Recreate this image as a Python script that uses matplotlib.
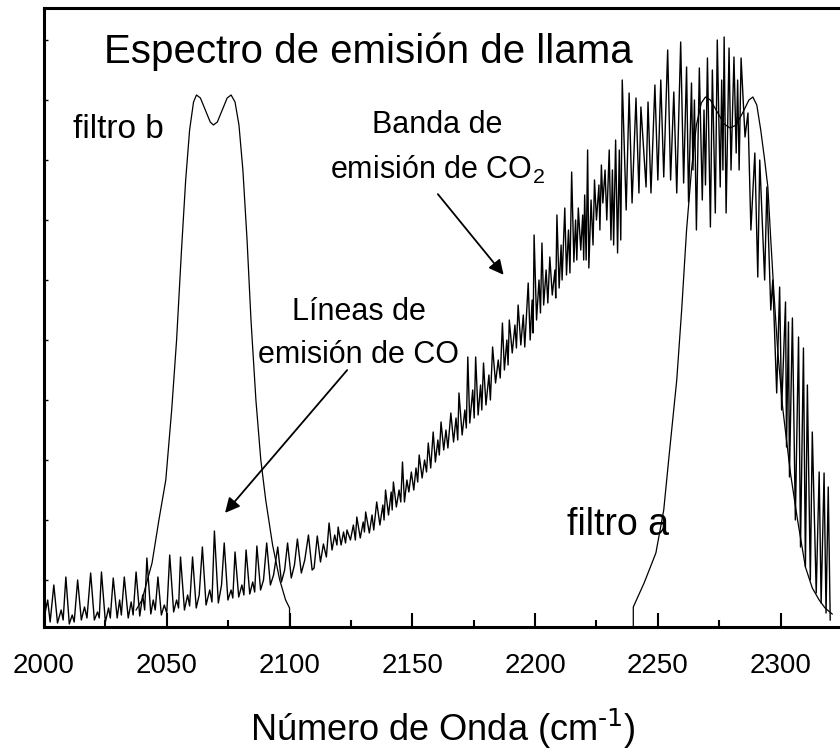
import matplotlib
matplotlib.use("Agg")
import matplotlib.pyplot as plt

plt.rcParams["font.family"] = ["Liberation Sans", "DejaVu Sans"]

# emission spectrum (wavenumber, intensity)
spec_x = [
    2000.0, 2001.5, 2002.5, 2004.0, 2005.5, 2007.0, 2007.8, 2008.9, 2010.3, 2011.5,
    2012.3, 2013.7, 2015.2, 2016.5, 2017.5, 2019.0, 2020.5, 2021.8, 2022.5, 2023.4,
    2025.0, 2026.3, 2027.0, 2028.2, 2029.8, 2030.8, 2031.5, 2032.7, 2034.3, 2035.5,
    2036.3, 2037.5, 2039.0, 2040.2, 2041.0, 2041.9, 2043.5, 2044.5, 2045.3, 2046.4,
    2047.8, 2049.0, 2050.0, 2051.2, 2052.8, 2054.0, 2054.8, 2055.6, 2057.2, 2058.5,
    2059.3, 2060.5, 2062.0, 2063.2, 2064.5, 2066.0, 2067.5, 2068.4, 2069.4, 2071.0,
    2072.3, 2073.4, 2074.9, 2076.2, 2076.9, 2077.8, 2079.3, 2080.6, 2081.4, 2082.3,
    2083.8, 2085.0, 2085.8, 2086.7, 2088.2, 2089.4, 2090.7, 2092.2, 2093.5, 2095.2,
    2096.7, 2098.0, 2099.2, 2100.7, 2102.0, 2103.2, 2104.8, 2106.2, 2107.7, 2109.2,
    2110.0, 2111.3, 2112.6, 2113.8, 2115.0, 2116.1, 2117.3, 2118.4, 2119.3, 2119.8,
    2121.0, 2122.0, 2122.8, 2123.4, 2124.8, 2126.0, 2126.8, 2127.4, 2128.8, 2130.0,
    2130.5, 2131.0, 2132.5, 2133.6, 2134.3, 2135.5, 2136.8, 2138.0, 2138.5, 2139.1,
    2140.3, 2141.4, 2141.8, 2142.3, 2143.5, 2144.6, 2145.3, 2146.0, 2146.8, 2147.8,
    2148.6, 2149.6, 2150.6, 2151.5, 2152.2, 2152.8, 2154.0, 2155.0, 2155.8, 2156.5,
    2157.5, 2158.5, 2159.4, 2160.4, 2161.0, 2161.7, 2162.8, 2163.7, 2164.5, 2165.7,
    2166.8, 2167.8, 2168.5, 2169.0, 2170.3, 2171.4, 2172.0, 2172.6, 2173.4, 2174.6,
    2175.2, 2175.8, 2176.8, 2177.8, 2178.3, 2179.0, 2180.0, 2181.2, 2181.8, 2182.7,
    2183.9, 2185.0, 2185.8, 2186.7, 2187.5, 2188.5, 2189.0, 2189.5, 2190.7, 2191.8,
    2192.4, 2193.1, 2194.2, 2195.2, 2195.8, 2197.2, 2198.0, 2198.8, 2199.2, 2199.6,
    2200.6, 2201.6, 2202.2, 2202.8, 2203.5, 2204.5, 2205.2, 2206.0, 2207.0, 2208.1,
    2208.4, 2208.9, 2209.8, 2210.6, 2211.0, 2212.1, 2212.8, 2213.6, 2214.2, 2214.9,
    2215.8, 2216.5, 2217.0, 2217.6, 2218.6, 2219.4, 2219.8, 2220.2, 2220.8, 2221.4,
    2221.9, 2222.8, 2223.6, 2224.2, 2225.0, 2226.0, 2226.4, 2227.0, 2227.6, 2228.5,
    2229.2, 2230.2, 2230.9, 2231.5, 2232.0, 2232.8, 2233.6, 2234.3, 2234.9, 2235.5,
    2237.1, 2238.3, 2239.5, 2241.1, 2242.3, 2243.1, 2245.2, 2246.0, 2247.2, 2248.8,
    2250.0, 2251.2, 2252.4, 2254.0, 2255.2, 2256.5, 2257.7, 2259.3, 2260.5, 2261.7,
    2262.5, 2263.7, 2264.3, 2264.9, 2265.7, 2266.9, 2268.1, 2268.8, 2269.4, 2270.2,
    2271.4, 2272.2, 2273.4, 2274.2, 2275.4, 2276.0, 2276.5, 2277.0, 2277.8, 2279.0,
    2279.8, 2281.0, 2281.9, 2282.5, 2283.1, 2283.9, 2285.5, 2286.7,
    2287.9, 2289.5, 2290.7, 2291.5, 2293.5, 2294.4, 2296.0, 2296.8, 2298.4, 2299.6,
    2300.4, 2302.0, 2302.4, 2303.2, 2303.6, 2304.8, 2306.0, 2307.3, 2308.1, 2309.3,
    2310.1, 2310.9, 2312.1, 2312.9, 2314.5, 2315.7, 2316.5, 2317.7, 2318.5, 2319.4,
    2320.2,
]
spec_y = [
    22, 40, 18, 55, 17, 30, 20, 63, 16, 25,
    18, 60, 20, 33, 22, 67, 20, 28, 22, 68,
    18, 32, 22, 62, 22, 40, 25, 63, 22, 38,
    25, 68, 24, 45, 30, 82, 26, 40, 30, 63,
    25, 35, 27, 85, 28, 40, 32, 83, 30, 45,
    34, 83, 32, 45, 93, 35, 50, 38, 109, 37,
    55, 97, 40, 50, 42, 88, 43, 55, 45, 90,
    46, 58, 48, 94, 50, 60, 97, 55, 65, 93,
    58, 70, 97, 62, 75, 101, 67, 80, 105, 70,
    72, 104, 78, 96, 83, 117, 90, 105, 95, 113,
    95, 108, 97, 110, 100, 115, 100, 123, 102, 118,
    108, 128, 107, 125, 110, 138, 115, 135, 120, 150,
    125, 148, 130, 158, 133, 150, 138, 178, 138, 160,
    148, 168, 150, 172, 158, 185, 162, 180, 168, 197,
    172, 208, 178, 200, 185, 218, 190, 210, 192, 227,
    198, 222, 200, 247, 205, 230, 212, 283, 217, 250,
    222, 283, 225, 255, 230, 277, 235, 265, 240, 293,
    257, 280, 262, 317, 270, 300, 275, 320, 287, 315,
    292, 335, 295, 325, 293, 357, 300, 340, 307, 405,
    320, 360, 327, 397, 335, 370, 337, 383, 345, 370,
    342, 425, 352, 395, 360, 432, 365, 410, 367, 468,
    378, 420, 380, 432, 390, 425, 380, 445, 380, 490,
    372, 440, 395, 460, 420, 455, 410, 475, 437, 470,
    420, 490, 400, 470, 395, 500, 387, 490, 400, 560,
    430, 547, 437, 542, 447, 533, 453, 538, 447, 555,
    460, 560, 463, 590, 460, 548, 447, 598, 457, 573,
    438, 557, 470, 540, 410, 572, 440, 530, 455, 582,
    413, 570, 427, 600, 453, 560, 470, 603, 427, 592,
    470, 583, 487, 560, 470, 582, 503, 527,
    410, 487, 363, 480, 360, 453, 330, 360, 247, 353,
    230, 338, 193, 318, 163, 322, 120, 303, 93, 292,
    73, 255, 60, 208, 47, 168, 37, 167, 27, 153,
    20,
]

# filter b transmission
filtb_x = [2037.5, 2039.9, 2044.0, 2046.8, 2049.6, 2052.0, 2054.0, 2056.0, 2057.7,
           2059.3, 2060.9, 2062.1, 2063.7, 2065.7, 2067.7, 2069.0, 2070.6, 2072.6, 2074.6,
           2076.2, 2077.8, 2079.4, 2081.0, 2082.7, 2084.3, 2086.3, 2088.3, 2090.3, 2093.1,
           2096.0, 2098.4, 2100.0, 2100.0]
filtb_y = [30, 40, 77, 120, 160, 230, 300, 390, 460,
           510, 538, 545, 542, 530, 518, 515, 518, 530, 542,
           545, 538, 515, 470, 400, 320, 240, 180, 140, 95,
           60, 40, 32, 0]

# filter a transmission
filta_x = [2240.0, 2240.0, 2244.4, 2249.2, 2252.4, 2254.4, 2257.7, 2259.7, 2261.7, 2263.7,
           2265.7, 2267.7, 2269.4, 2271.4, 2274.2, 2277.0, 2279.4, 2281.9, 2284.7, 2287.1,
           2288.7, 2290.3, 2291.9, 2293.5, 2294.8, 2296.0, 2297.2, 2298.8, 2300.8, 2304.0,
           2306.9, 2310.1, 2312.9, 2315.7, 2318.1, 2321.0]
filta_y = [0, 33, 57, 87, 130, 180, 260, 330, 410, 470,
           515, 537, 543, 540, 528, 516, 512, 515, 528, 540,
           543, 535, 510, 480, 453, 400, 350, 290, 233, 167,
           120, 73, 52, 40, 32, 26]

fig = plt.figure(figsize=(8.4, 7.56), dpi=100)
ax = fig.add_axes([44 / 840, 129 / 756, 798 / 840, 619 / 756])

ax.plot(spec_x, spec_y, color="black", lw=1.0)
ax.plot(filtb_x, filtb_y, color="black", lw=0.9)
ax.plot(filta_x, filta_y, color="black", lw=0.9)

ax.set_xlim(2000, 2321.8)
ax.set_ylim(13, 632)

ax.set_xticks([2000, 2050, 2100, 2150, 2200, 2250, 2300])
ax.set_xticks([2025, 2075, 2125, 2175, 2225, 2275, 2325], minor=True)
ax.set_yticks([60, 120, 180, 240, 300, 360, 420, 480, 540, 600])
ax.set_yticklabels([])
ax.tick_params(axis="x", which="major", direction="in", length=10, width=1.5,
               labelsize=20, pad=19, top=False)
ax.tick_params(axis="x", which="minor", direction="in", length=5, width=1.5, top=False)
ax.tick_params(axis="y", direction="in", length=3, width=1.0, right=False)
for s in ax.spines.values():
    s.set_linewidth(2.2)
ax.spines["right"].set_visible(False)

ax.set_xlabel("Número de Onda (cm$^{\\text{-1}}$)", fontsize=26, labelpad=20)

ax.text(2132.3, 588, "Espectro de emisión de llama", fontsize=29, ha="center", va="center")
ax.text(2011.7, 510, "filtro b", fontsize=24, ha="left", va="center")
ax.text(2213.0, 115, "filtro a", fontsize=27, ha="left", va="center")
ax.text(2160.1, 515, "Banda de", fontsize=22, ha="center", va="center")
ax.text(2160.1, 470, "emisión de CO$_{\\mathregular{2}}$", fontsize=22, ha="center", va="center")
ax.text(2128.2, 328, "Líneas de", fontsize=22, ha="center", va="center")
ax.text(2128.2, 285, "emisión de CO", fontsize=22, ha="center", va="center")

ax.annotate("", xy=(2187.9, 363), xytext=(2159.7, 448),
            arrowprops=dict(arrowstyle="-|>", color="black", lw=1.3, mutation_scale=22))
ax.annotate("", xy=(2073.0, 125), xytext=(2124.2, 272),
            arrowprops=dict(arrowstyle="-|>", color="black", lw=1.3, mutation_scale=22))

fig.savefig("out.png", dpi=100)
